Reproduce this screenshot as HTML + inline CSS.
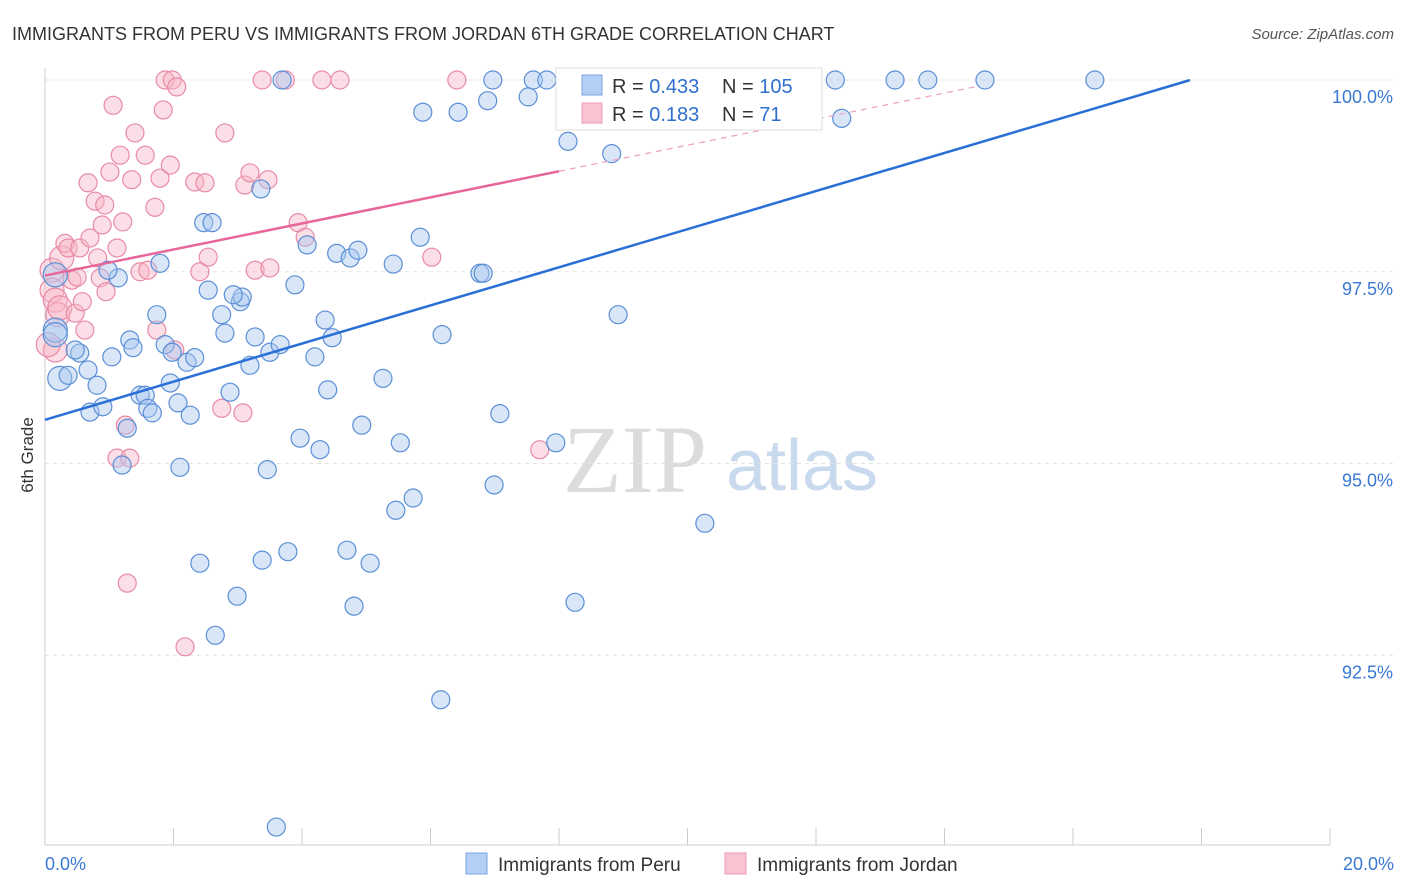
<!DOCTYPE html>
<html><head><meta charset="utf-8"><style>
body{margin:0;background:#fff;font-family:"Liberation Sans",sans-serif}
svg{display:block}
</style></head><body>
<svg id="chart" width="1406" height="892" xmlns="http://www.w3.org/2000/svg">
<text x="12" y="40" font-size="18" fill="#333">IMMIGRANTS FROM PERU VS IMMIGRANTS FROM JORDAN 6TH GRADE CORRELATION CHART</text>
<text x="1394" y="39" font-size="15" fill="#555" font-style="italic" text-anchor="end">Source: ZipAtlas.com</text>
<text transform="translate(33,455) rotate(-90)" font-size="17" fill="#333" text-anchor="middle">6th Grade</text>
<g>
<text x="635" y="492" font-size="96" fill="#dcdcdc" font-family="Liberation Serif,serif" text-anchor="middle">ZIP</text>
<text x="802" y="490" font-size="72" fill="#c9d9ee" text-anchor="middle">atlas</text>
</g>
<g id="grid"></g><g id="axes"></g><g id="pts"></g><g id="lines"></g>
<g>
<rect x="556" y="68" width="266" height="62" fill="#fff" stroke="#ddd"/>
<rect x="582" y="75" width="20" height="20" fill="#b3cff5" stroke="#7aa6e0"/>
<rect x="582" y="103" width="20" height="20" fill="#f9c3d2" stroke="#ec9ab2"/>
<text x="612" y="93" font-size="20" fill="#333">R = <tspan fill="#2f6fce">0.433</tspan></text>
<text x="722" y="93" font-size="20" fill="#333">N = <tspan fill="#2f6fce">105</tspan></text>
<text x="612" y="121" font-size="20" fill="#333">R = <tspan fill="#2f6fce"> 0.183</tspan></text>
<text x="722" y="121" font-size="20" fill="#333">N = <tspan fill="#2f6fce">  71</tspan></text>
</g>
<g>
<rect x="466" y="853" width="21" height="21" fill="#b3cff5" stroke="#7aa6e0"/>
<text x="498" y="871" font-size="19" fill="#333">Immigrants from Peru</text>
<rect x="725" y="853" width="21" height="21" fill="#f9c3d2" stroke="#ec9ab2"/>
<text x="757" y="871" font-size="19" fill="#333">Immigrants from Jordan</text>
</g>
</svg>
<script>
const yTicks=[100,97.5,95,92.5];
const yTickLabels=["100.0%","97.5%","95.0%","92.5%"];
const xTicks=[0,2,4,6,8,10,12,14,16,18,20];
const xEndLabels=["0.0%","20.0%"];
const peruX=[.16,.16,.16,.23,.36,.67,.54,.47,.70,.81,.90,1.04,1.14,.98,1.32,1.37,1.28,1.20,1.48,1.56,1.60,1.67,1.74,1.79,1.87,1.95,1.98,2.07,2.10,2.21,2.26,2.33,2.41,2.47,2.60,2.54,2.65,2.75,2.80,2.88,2.99,3.04,3.07,2.93,3.19,3.27,3.38,3.46,3.50,3.66,3.78,3.89,3.97,4.08,4.20,4.28,4.36,4.40,4.47,4.54,4.70,4.75,4.81,4.87,4.93,5.06,5.26,5.42,5.53,5.73,5.46,5.84,5.88,6.18,6.16,6.43,6.77,6.82,6.89,6.99,7.08,6.97,7.52,7.60,7.81,7.95,8.14,8.25,8.82,8.92,9.49,10.27,10.89,12.30,12.40,13.23,13.74,14.63,16.34,3.60,3.36,3.69];
const peruY=[97.46,96.74,96.68,96.11,96.15,96.22,96.44,96.48,95.67,96.02,95.74,96.39,97.42,97.52,96.61,96.51,95.46,94.98,95.89,95.89,95.72,95.66,96.94,97.61,96.55,96.05,96.45,95.79,94.95,96.32,95.63,96.38,93.70,98.14,98.14,97.26,92.76,96.94,96.70,95.93,93.27,97.11,97.17,97.20,96.28,96.65,93.74,94.92,96.45,96.55,93.85,97.33,95.33,97.85,96.39,95.18,96.87,95.96,96.64,97.74,93.87,97.68,93.14,97.78,95.50,93.70,96.11,97.60,95.27,94.55,94.39,97.95,99.58,96.68,91.92,99.58,97.48,97.48,99.73,94.72,95.65,100,99.78,100,100,95.27,99.20,93.19,99.04,96.94,100,94.22,100,100,99.50,100,100,100,100,90.26,98.58,100];
const jordanX=[.11,.11,.16,.16,.20,.23,.26,.31,.36,.42,.47,.50,.54,.58,.62,.67,.70,.78,.82,.86,.89,.93,.95,1.01,1.06,1.12,1.12,1.17,1.21,1.25,1.28,1.32,1.35,1.40,1.48,1.56,1.60,1.71,1.74,1.79,1.84,1.87,1.95,1.98,2.05,2.02,2.18,2.33,2.41,2.49,2.54,2.75,2.80,3.08,3.11,3.19,3.27,3.38,3.47,3.50,3.74,3.94,4.05,4.31,4.59,6.02,6.41,7.70,.05];
const jordanY=[97.52,97.26,97.13,96.48,96.94,97.03,97.68,97.87,97.81,97.39,96.96,97.43,97.81,97.11,96.74,98.66,97.94,98.42,97.68,97.42,98.11,98.37,97.24,98.80,99.67,97.81,95.07,99.02,98.15,95.50,93.44,95.07,98.70,99.31,97.50,99.02,97.52,98.34,96.74,98.72,99.61,100,98.89,100,99.91,96.48,92.61,98.67,97.50,98.66,97.69,95.72,99.31,95.66,98.63,98.79,97.52,100,98.70,97.55,100,98.14,97.95,100,100,97.69,100,95.18,96.55];
const peruTrend=[95.57,0.2485]; // intercept, slope
const jordanTrend=[97.45,0.17];
const NS="http://www.w3.org/2000/svg";
const X=v=>45+v*64.25, Y=v=>80+(100-v)*76.7;
function mk(tag,attrs,parent){const e=document.createElementNS(NS,tag);for(const k in attrs)e.setAttribute(k,attrs[k]);parent.appendChild(e);return e;}
const grid=document.getElementById('grid'),axes=document.getElementById('axes'),pts=document.getElementById('pts'),lines=document.getElementById('lines');
yTicks.forEach((t,i)=>{
 const l=mk('line',{x1:45,x2:1394,y1:Y(t),y2:Y(t),stroke:'#e3e3e3','stroke-dasharray':'4,4'},grid);
 
 
 const tx=mk('text',{x:1393,y:Y(t)+23,'font-size':18,fill:'#3a78d4','text-anchor':'end'},axes);
 tx.textContent=yTickLabels[i];
 
 
});
const ax=mk('line',{x1:45,x2:1330,y1:845,y2:845,stroke:'#ccc'},axes);


const ay=mk('line',{x1:45,x2:45,y1:68,y2:845,stroke:'#ccc'},axes);


xTicks.forEach(t=>{
 const l=mk('line',{x1:X(t),x2:X(t),y1:828,y2:845,stroke:'#ccc'},axes);
 
 
});
[[0,'start',45],[20,'end',1394]].forEach((a,i)=>{
 const tx=mk('text',{x:a[2],y:870,'font-size':18,fill:'#3a78d4','text-anchor':a[1]},axes);
 tx.textContent=xEndLabels[i];
 
 
});
function drawPts(xs,ys,fill,stroke,name){xs.forEach((x,i)=>{
 const r=(x<0.3)?12:9;
 const c=mk('circle',{cx:X(x),cy:Y(ys[i]),r:r,fill:fill,'fill-opacity':0.45,stroke:stroke,'stroke-width':1.2},pts);
 
 
});}
drawPts(jordanX,jordanY,'#f7b6c8','#e88aa8','point-jordan');
drawPts(peruX,peruY,'#a9c8f0','#5b8fd6','point-peru');
const x1=Math.min(17.82,(100-peruTrend[0])/peruTrend[1]);
const pl=mk('line',{x1:X(0),y1:Y(peruTrend[0]),x2:X(x1),y2:Y(peruTrend[0]+peruTrend[1]*x1),stroke:'#2a6fd6','stroke-width':2.5},lines);


const js=mk('line',{x1:X(0),y1:Y(jordanTrend[0]),x2:X(8),y2:Y(jordanTrend[0]+jordanTrend[1]*8),stroke:'#e8679a','stroke-width':2.5},lines);


const jd=mk('line',{x1:X(8),y1:Y(jordanTrend[0]+jordanTrend[1]*8),x2:X(14.55),y2:Y(jordanTrend[0]+jordanTrend[1]*14.55),stroke:'#eca0bd','stroke-width':1.2,'stroke-dasharray':'6,5'},lines);


</script>
</body></html>
